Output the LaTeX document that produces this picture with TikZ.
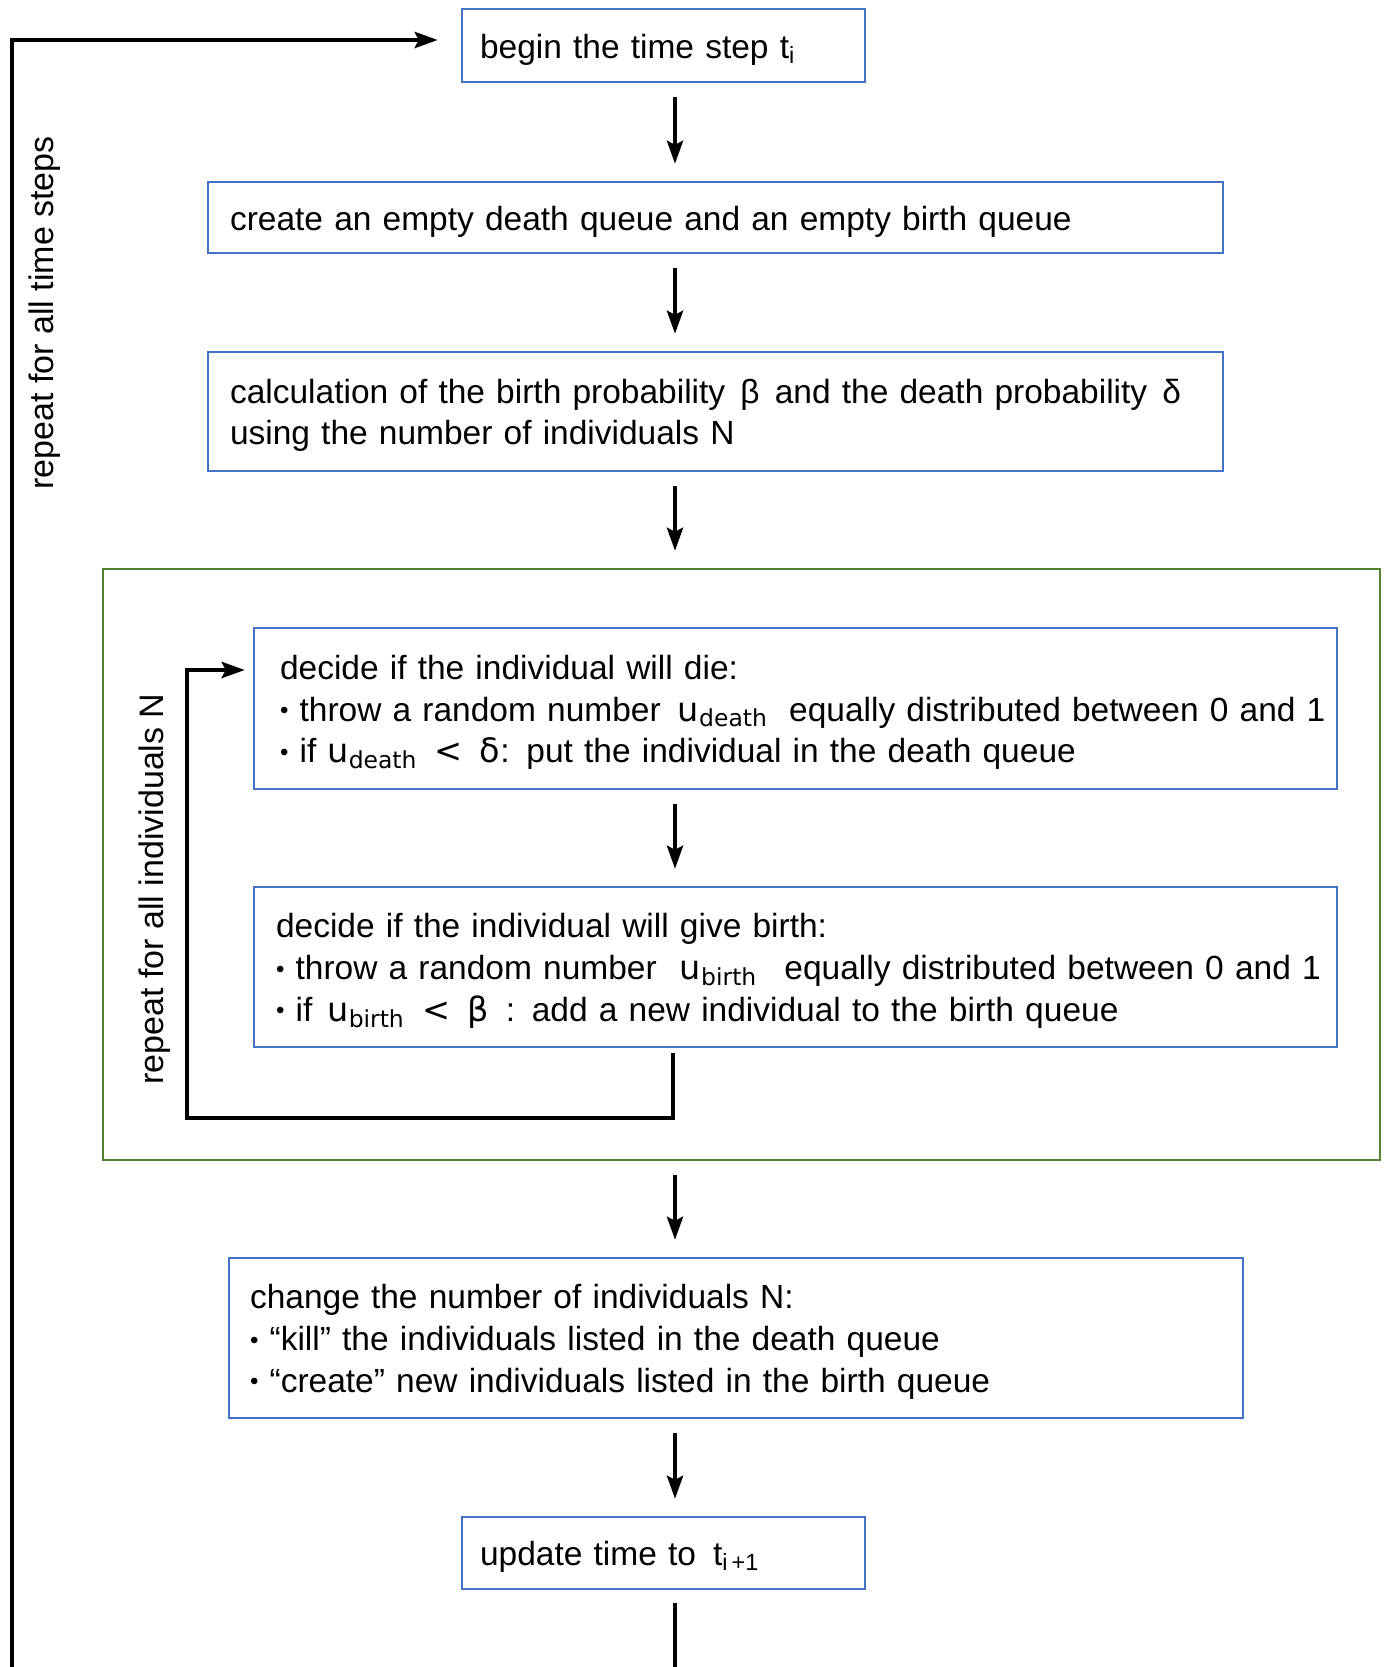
\documentclass[tikz,border=0pt]{standalone}
\usepackage{fontspec}
\setmainfont{Liberation Sans}
\newfontfamily\symf{DejaVu Sans}
\usetikzlibrary{arrows.meta}
\definecolor{boxblue}{HTML}{4472C4}
\definecolor{boxgreen}{HTML}{548235}
\newcommand{\bul}{\raisebox{1.2pt}{\scalebox{0.72}{•}}}
\newcommand{\usub}[1]{{\symf u\textsubscript{#1}}}
\tikzset{
  every node/.style={font=\fontsize{17}{21}\selectfont},
  box/.style={draw=boxblue, line width=1.2pt, rectangle, align=left, inner ysep=0pt,
    font=\fontsize{16.75}{20.9}\selectfont, execute at begin node={\rule{0pt}{16pt}}},
  groupbox/.style={draw=boxgreen, line width=1.2pt, rectangle},
  arr/.style={line width=2.1pt, -{Stealth[length=11.5pt,width=8pt,inset=2pt]}, shorten <=7pt, shorten >=8.5pt},
  loopline/.style={line width=2.3pt, -{Stealth[length=11.5pt,width=8pt,inset=2pt]}},
}
\begin{document}
\begin{tikzpicture}[x=0.5pt,y=-0.5pt]
\useasboundingbox (0,0) rectangle (1384,1667);

\node[box, minimum width=201.5pt, minimum height=36.5pt, text width=183.5pt, inner xsep=9pt] (b1) at (663.5,45.5)
  {begin the time step t\textsubscript{i}};
\node[box, minimum width=507.5pt, minimum height=35.5pt, text width=485.5pt, inner xsep=11pt] (b2) at (715.5,217.5)
  {create an empty death queue and an empty birth queue};
\node[box, minimum width=507.5pt, minimum height=59.5pt, text width=485.5pt, inner xsep=11pt] (b3) at (715.5,411.5)
  {\mbox{calculation of the birth probability\hspace{2pt} β\hspace{2pt} and the death probability\hspace{2pt} δ}\\using the number of individuals N};
\node[groupbox, minimum width=638.5pt, minimum height=295.5pt] (g) at (741.5,864.5) {};
\node[box, minimum width=541.5pt, minimum height=80.5pt, text width=519.5pt, inner xsep=11pt] (b4) at (795.5,708.5)
  {\hspace*{2pt}decide if the individual will die:\\
   \mbox{\hspace*{2pt}\bul{} throw a random number\hspace{3pt} \usub{death}\hspace{5pt} equally distributed between 0 and 1}\\
   \mbox{\hspace*{2pt}\bul{} if \usub{death}\hspace{3pt} {\symf <}\hspace{3pt} {\symf δ}: put the individual in the death queue}};
\node[box, minimum width=541.5pt, minimum height=80pt, text width=519.5pt, inner xsep=11pt] (b5) at (795.5,967)
  {decide if the individual will give birth:\\
   \mbox{\bul{} throw a random number\hspace{6pt} \usub{birth}\hspace{8pt} equally distributed between 0 and 1}\\
   \mbox{\bul{} if\hspace{2pt} \usub{birth}\hspace{3pt} {\symf <}\hspace{3pt} {\symf β}\hspace{3pt} : add a new individual to the birth queue}};
\node[box, minimum width=507pt, minimum height=80pt, text width=486pt, inner xsep=10.5pt] (b6) at (736,1338)
  {change the number of individuals N:\\
   \bul{} “kill” the individuals listed in the death queue\\
   \bul{} “create” new individuals listed in the birth queue};
\node[box, minimum width=201.5pt, minimum height=36pt, text width=183.5pt, inner xsep=9pt] (b7) at (663.5,1553)
  {update time to\hspace{3pt} t\textsubscript{i\,+1}};

\node[rotate=90] (lt) at (45,313) {repeat for all time steps};
\node[rotate=90] (li) at (155,889) {repeat for all individuals N};

\coordinate (ax) at (675,0);
\draw[arr] (b1.south -| ax) -- (b2.north -| ax);
\draw[arr] (b2.south -| ax) -- (b3.north -| ax);
\draw[arr] (b3.south -| ax) -- (g.north -| ax);
\draw[arr] (b4.south -| ax) -- (b5.north -| ax);
\draw[arr] (g.south -| ax) -- (b6.north -| ax);
\draw[arr] (b6.south -| ax) -- (b7.north -| ax);

\coordinate (lx) at (673,0);
\coordinate (lc) at (187,1118);
\coordinate (ly) at (0,670);
\draw[loopline, shorten <=2.5pt, shorten >=4pt] (b5.south -| lx) |- (lc) |- (b4.west |- ly);

\coordinate (ob) at (12,1720);
\coordinate (ot) at (12,40);
\draw[loopline, shorten <=6.5pt, shorten >=11.5pt] (b7.south -| ax) |- (ob) -- (ot) -- (b1.west |- ot);
\end{tikzpicture}
\end{document}
